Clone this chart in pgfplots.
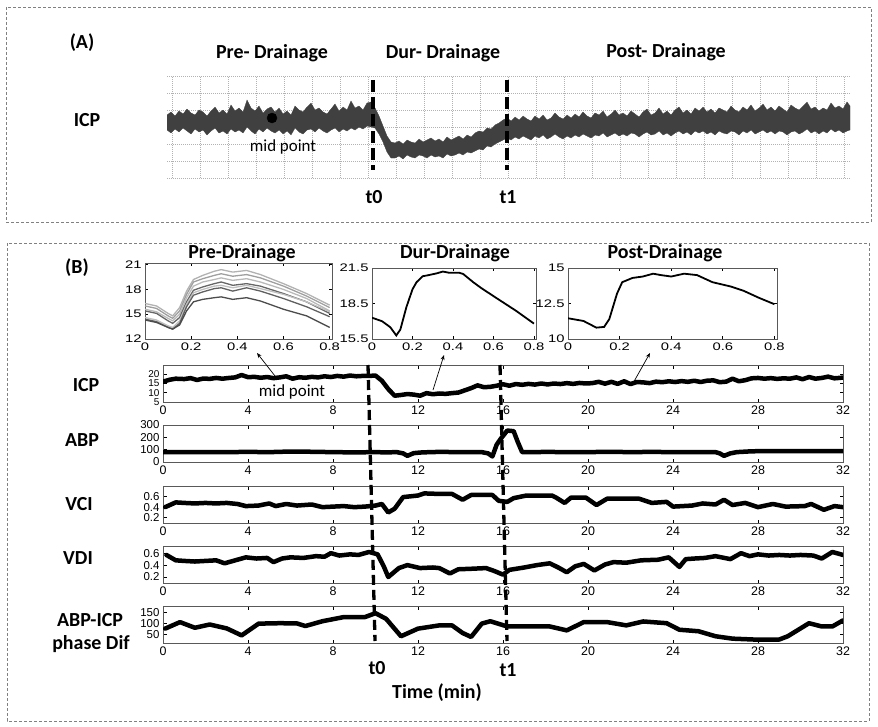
\documentclass[border=0pt]{standalone}
\usepackage{pgfplots}
\pgfplotsset{compat=1.18}
\usepackage{fontspec}
\setmainfont{Carlito}
\newfontfamily\lsans{Liberation Sans}
\newfontfamily\lsanswide[FakeStretch=1.35]{Liberation Sans}
\usetikzlibrary{arrows.meta}
\newcommand\xtf{\lsans\fontsize{12.5}{12.5}\selectfont}
\newcommand\ytf{\lsans\fontsize{11.5}{11.5}\selectfont}
\newcommand\ytfs{\lsans\fontsize{10}{10}\selectfont}
\newcommand\stf{\lsanswide\fontsize{11}{11}\selectfont}
\newcommand\lab{\fontsize{20}{22}\selectfont\bfseries}
\newcommand\mpf{\fontsize{17}{19}\selectfont}
\definecolor{band}{RGB}{64,64,64}
\pgfplotsset{
  base/.style={scale only axis, axis line style={draw=gray!70!black, line width=0.8bp},
    tick style={draw=black, line width=0.8bp}, major tick length=3.5bp, tick align=inside,
    /pgf/number format/assume math mode=true, no markers},
  mainax/.style={base, width=680bp, height=37bp, xmin=0, xmax=32, xtick={0,4,...,32},
    xticklabel style={font=\xtf}, yticklabel style={font=\ytf}},
  smallax/.style={base, xmin=0, xmax=0.81, xtick={0,0.2,0.4,0.6,0.8},
    xticklabels={0,0.2,0.4,0.6,0.8}, ticklabel style={font=\stf}, major tick length=3bp},
  thickline/.style={black, line width=4.5bp, line join=round, line cap=round},
}
\begin{document}
\begin{tikzpicture}
\begin{scope}[x=1bp,y=-1bp]
\path[use as bounding box] (0,0) rectangle (878,727);
\draw[gray, line width=0.8bp, dash pattern=on 3bp off 2bp] (6,7) rectangle (871,222);
\draw[gray, line width=0.8bp, dash pattern=on 3bp off 2bp] (7,243) rectangle (869,721);
\coordinate (aSW) at (167,178);
\coordinate (preSW) at (145,339);
\coordinate (durSW) at (372,339);
\coordinate (postSW) at (568,339);
\coordinate (icpSW) at (163,402);
\coordinate (abpSW) at (163,462);
\coordinate (vciSW) at (163,523);
\coordinate (vdiSW) at (163,583);
\coordinate (phSW) at (163,643);
\end{scope}

% ---------------- Panel A -----------------
\begin{axis}[at={(aSW)}, anchor=south west, scale only axis, width=683bp, height=102bp,
  xmin=0, xmax=683, ymin=0, ymax=102, axis line style={draw=none},
  xtick={5,33,...,677}, ytick={0,17,...,102}, xticklabels={}, yticklabels={},
  major tick length=0pt, grid=major,
  grid style={gray!60, line width=0.6bp, dash pattern=on 1bp off 1bp}]
\addplot[fill=band, draw=band, line width=0.3bp, line join=miter] coordinates {
(0,63)(4,66)(8,62)(12,67)(16,64)(20,69)(24,65)(28,63)(32,68)(36,66)(40,62)(44,67)(48,71)(52,65)
(56,68)(60,64)(64,73)(68,67)(72,70)(76,66)(80,78)(84,70)(88,67)(92,72)(96,65)(100,69)(104,71)
(108,66)(112,70)(116,64)(120,67)(124,63)(128,72)(132,68)(136,66)(140,71)(144,75)(148,68)(152,70)
(156,66)(160,64)(164,69)(168,74)(172,67)(176,71)(180,68)(184,77)(188,70)(192,72)(196,68)(200,75)
(204,76)(208,70)(212,62)(216,52)(220,42)(224,36)
(228,35)(232,37)(236,34)(240,38)(244,36)(248,35)(252,39)(256,36)(260,38)(264,40)(268,37)(272,39)
(276,36)(280,41)(284,38)(288,40)(292,42)(296,39)(300,43)(304,41)(308,45)(312,47)(316,46)(320,50)
(324,49)(328,53)(332,55)(336,58)
(340,60)(344,57)(348,61)(352,58)(356,62)(360,59)(364,57)(368,62)(372,59)(376,63)(380,58)(384,60)
(388,65)(392,61)(396,59)(400,63)(404,60)(408,64)(412,61)(416,66)(420,62)(424,60)(428,65)(432,63)
(436,67)(440,61)(444,64)(448,68)(452,63)(456,65)(460,62)(464,67)(468,64)(472,61)(476,66)(480,69)
(484,63)(488,65)(492,70)(496,64)(500,67)(504,63)(508,68)(512,71)(516,65)(520,68)(524,64)(528,70)
(532,67)(536,71)(540,66)(544,69)(548,65)(552,70)(556,68)(560,66)(564,72)(568,68)(572,66)(576,71)
(580,68)(584,73)(588,67)(592,70)(596,74)(600,68)(604,71)(608,67)(612,72)(616,69)(620,66)(624,73)
(628,70)(632,68)(636,72)(640,76)(644,69)(648,71)(652,67)(656,70)(660,68)(664,75)(668,70)(672,72)
(676,69)(680,76)(683,72)
(683,48)(680,47)(676,45)(672,48)(668,46)(664,49)(660,45)(656,47)(652,44)(648,47)(644,45)(640,49)
(636,46)(632,44)(628,47)(624,46)(620,43)(616,46)(612,47)(608,44)(604,47)(600,45)(596,48)(592,46)
(588,44)(584,48)(580,45)(576,47)(572,43)(568,46)(564,47)(560,44)(556,45)(552,47)(548,43)(544,46)
(540,44)(536,47)(532,45)(528,47)(524,43)(520,46)(516,44)(512,47)(508,45)(504,42)(500,45)(496,43)
(492,47)(488,44)(484,43)(480,46)(476,44)(472,41)(468,44)(464,45)(460,42)(456,44)(452,42)(448,45)
(444,43)(440,41)(436,45)(432,42)(428,43)(424,40)(420,42)(416,44)(412,41)(408,43)(404,40)(400,42)
(396,39)(392,41)(388,44)(384,41)(380,39)(376,43)(372,40)(368,42)(364,38)(360,40)(356,42)(352,39)
(348,41)(344,38)(340,40)
(336,38)(332,36)(328,34)(324,31)(320,32)(316,28)(312,29)(308,27)(304,25)(300,26)(296,23)(292,25)
(288,23)(284,22)(280,24)(276,20)(272,22)(268,21)(264,23)(260,20)(256,22)(252,23)(248,20)(244,21)
(240,23)(236,19)(232,22)(228,20)
(224,20)(220,26)(216,36)(212,44)(208,50)
(204,51)(200,52)(196,49)(192,51)(188,48)(184,50)(180,47)(176,49)(172,46)(168,50)(164,48)(160,45)
(156,47)(152,50)(148,46)(144,49)(140,48)(136,44)(132,46)(128,50)(124,43)(120,47)(116,44)(112,48)
(108,45)(104,47)(100,50)(96,46)(92,49)(88,44)(84,47)(80,51)(76,45)(72,48)(68,46)(64,49)(60,44)
(56,47)(52,45)(48,50)(44,47)(40,43)(36,48)(32,46)(28,49)(24,44)(20,47)(16,50)(12,46)(8,49)(4,45)(0,48)
};
\addplot[only marks, mark=*, mark size=5bp, black] coordinates {(105,60)};
\end{axis}

% ---------------- Small plots -----------------
\begin{axis}[smallax, at={(preSW)}, anchor=south west, width=187bp, height=76bp,
  ymin=12, ymax=21.2, ytick={12,15,18,21}]
\addplot[gray!60, line width=1.3bp] coordinates {(0,16.3)(0.05,16.0)(0.1,15.1)(0.12,14.8)(0.15,15.8)(0.18,17.8)(0.21,19.2)(0.25,19.7)(0.3,20.2)(0.33,20.4)(0.38,20.1)(0.44,20.3)(0.5,19.8)(0.6,18.7)(0.7,17.5)(0.8,16.1)};
\addplot[gray!75, line width=1.3bp] coordinates {(0,16.0)(0.05,15.7)(0.1,14.8)(0.12,14.5)(0.15,15.4)(0.18,17.4)(0.21,18.9)(0.25,19.3)(0.3,19.7)(0.33,19.9)(0.38,19.6)(0.44,19.8)(0.5,19.4)(0.6,18.4)(0.7,17.2)(0.8,15.8)};
\addplot[gray!55, line width=1.3bp] coordinates {(0,15.6)(0.05,15.3)(0.1,14.5)(0.12,14.2)(0.15,15.0)(0.18,17.0)(0.21,18.4)(0.25,18.9)(0.3,19.2)(0.33,19.4)(0.38,19.1)(0.44,19.3)(0.5,18.9)(0.6,18.0)(0.7,16.9)(0.8,15.4)};
\addplot[gray!80!black, line width=1.3bp] coordinates {(0,15.4)(0.05,15.1)(0.1,14.2)(0.12,13.9)(0.15,14.6)(0.18,16.5)(0.21,17.9)(0.25,18.3)(0.3,18.7)(0.33,18.9)(0.38,18.5)(0.44,18.7)(0.5,18.4)(0.6,17.5)(0.7,16.5)(0.8,15.1)};
\addplot[gray!50, line width=1.3bp] coordinates {(0,14.6)(0.05,14.3)(0.1,13.6)(0.12,13.4)(0.15,14.2)(0.18,16.2)(0.21,17.6)(0.25,18.0)(0.3,18.4)(0.33,18.5)(0.38,18.2)(0.44,18.5)(0.5,18.1)(0.6,17.4)(0.7,16.5)(0.8,15.3)};
\addplot[gray!75!black, line width=1.3bp] coordinates {(0,14.4)(0.05,14.1)(0.1,13.4)(0.12,13.2)(0.15,13.9)(0.18,15.9)(0.21,17.3)(0.25,17.7)(0.3,18.1)(0.33,18.2)(0.38,17.8)(0.44,18.2)(0.5,17.8)(0.6,16.9)(0.7,15.9)(0.8,14.7)};
\addplot[gray!60!black, line width=1.3bp] coordinates {(0,14.3)(0.05,14.0)(0.1,13.4)(0.12,13.2)(0.15,13.7)(0.18,15.4)(0.21,16.5)(0.25,16.8)(0.3,17.0)(0.33,17.1)(0.38,16.8)(0.44,17.0)(0.5,16.6)(0.6,15.6)(0.7,14.8)(0.8,13.4)};
\end{axis}

\begin{axis}[smallax, at={(durSW)}, anchor=south west, width=164bp, height=71bp,
  ymin=15.5, ymax=21.5, ytick={15.5,18.5,21.5}, yticklabels={15.5,18.5,21.5}]
\addplot[black, line width=1.8bp] coordinates {(0,17.3)(0.05,17.0)(0.09,16.5)(0.12,15.8)(0.14,16.3)(0.17,18.2)(0.2,19.7)(0.22,20.3)(0.25,20.8)(0.28,20.9)(0.32,21.05)(0.35,21.2)(0.38,21.1)(0.43,21.1)(0.45,21.0)(0.5,20.3)(0.54,19.8)(0.62,18.9)(0.71,17.9)(0.8,16.8)};
\end{axis}

\begin{axis}[smallax, at={(postSW)}, anchor=south west, width=209bp, height=71bp,
  ymin=10, ymax=15, ytick={10,12.5,15}, yticklabels={10,12.5,15}]
\addplot[black, line width=1.8bp] coordinates {(0,11.46)(0.06,11.27)(0.11,10.8)(0.14,10.85)(0.16,11.4)(0.19,13.2)(0.21,14.0)(0.25,14.3)(0.29,14.4)(0.33,14.6)(0.36,14.5)(0.40,14.4)(0.45,14.6)(0.50,14.5)(0.56,14.0)(0.63,13.7)(0.68,13.4)(0.74,12.9)(0.8,12.45)};
\end{axis}

% ---------------- Time series -----------------
\begin{axis}[mainax, at={(icpSW)}, anchor=south west, ymin=5, ymax=25, ytick={5,10,15,20},
  yticklabel style={font=\ytfs}]
\addplot[thickline] coordinates {
(0,16.0)(0.3,17.0)(0.6,17.6)(1.0,17.4)(1.3,17.9)(1.6,16.9)(1.9,17.7)(2.2,17.5)(2.5,18.0)(2.8,17.6)
(3.1,18.0)(3.4,18.3)(3.7,19.6)(4.0,18.4)(4.3,18.6)(4.6,18.1)(4.9,18.5)(5.2,17.9)(5.5,18.3)(5.8,18.9)
(6.1,17.6)(6.4,18.4)(6.7,18.1)(7.0,18.6)(7.3,18.3)(7.6,18.9)(7.9,18.5)(8.2,19.1)(8.5,18.7)(8.8,19.3)
(9.1,18.9)(9.4,19.1)(9.7,19.1)(10.0,19.3)(10.3,16.5)(10.6,12.0)(10.9,8.4)(11.2,8.8)(11.5,9.3)(11.8,9.0)
(12.1,8.4)(12.4,9.8)(12.7,9.2)(13.0,9.6)(13.3,9.4)(13.6,9.8)(13.9,10.1)(14.2,11.3)(14.5,12.5)(14.8,14.0)
(15.1,13.0)(15.4,13.2)(15.7,13.8)(16.0,14.6)(16.3,13.8)(16.6,14.7)(16.9,14.3)(17.2,14.8)(17.5,14.4)(17.8,15.0)
(18.1,14.5)(18.4,15.0)(18.7,14.7)(19.0,15.2)(19.3,14.8)(19.6,15.3)(19.9,15.0)(20.2,15.2)(20.5,15.9)(20.8,14.9)
(21.1,15.9)(21.4,14.8)(21.7,16.2)(22.0,14.7)(22.3,15.8)(22.6,15.6)(22.9,15.2)(23.2,16.0)(23.5,15.7)(23.8,16.2)
(24.1,15.8)(24.4,16.3)(24.7,15.9)(25.0,16.5)(25.3,15.8)(25.6,16.5)(25.9,16.7)(26.2,15.7)(26.5,16.0)(26.8,17.6)
(27.1,16.2)(27.4,16.8)(27.7,17.8)(28.0,18.0)(28.3,17.6)(28.6,17.9)(28.9,17.5)(29.2,17.8)(29.5,17.6)(29.8,18.3)
(30.1,17.3)(30.4,18.5)(30.7,17.6)(31.0,18.0)(31.3,18.7)(31.6,17.8)(32.0,18.2)};
\end{axis}

\begin{axis}[mainax, at={(abpSW)}, anchor=south west, ymin=0, ymax=300, ytick={0,100,200,300}]
\addplot[thickline] coordinates {
(0,80)(1,80)(2,81)(3,80)(4,82)(5,80)(6,85)(7,83)(8,80)(9,78)(10,80)(10.5,78)(11,80)(11.3,70)(11.5,50)
(11.8,72)(12.2,78)(13,82)(14,80)(15,80)(15.3,70)(15.5,45)(15.7,140)(15.9,190)(16.2,255)(16.5,250)
(16.7,160)(16.9,80)(17.5,80)(18,82)(19,80)(20,80)(21,83)(22,80)(23,82)(24,80)(25,80)(26,80)(26.2,70)
(26.4,50)(26.7,70)(27,80)(27.5,85)(28,88)(29,88)(30,88)(31,88)(32,88)};
\end{axis}

\begin{axis}[mainax, at={(vciSW)}, anchor=south west, ymin=0.1, ymax=0.8, ytick={0.2,0.4,0.6}, yticklabels={0.2,0.4,0.6}]
\addplot[thickline] coordinates {
(0.1,0.40)(0.6,0.49)(1.0,0.48)(1.5,0.47)(2.0,0.48)(2.5,0.47)(3.0,0.48)(3.5,0.46)(3.9,0.42)(4.5,0.43)
(5.0,0.47)(5.3,0.42)(5.8,0.46)(6.3,0.43)(7.0,0.45)(7.5,0.40)(8.0,0.41)(8.5,0.42)(9.0,0.40)(9.5,0.41)
(10.0,0.43)(10.3,0.46)(10.6,0.30)(10.9,0.37)(11.3,0.59)(12.0,0.62)(12.3,0.66)(13.0,0.65)(13.6,0.65)(14.1,0.54)
(14.5,0.63)(15.5,0.63)(15.8,0.52)(16.2,0.50)(16.5,0.57)(17.1,0.62)(18.3,0.62)(18.5,0.58)(18.9,0.48)(19.2,0.58)
(19.9,0.58)(20.4,0.44)(20.9,0.56)(22.4,0.56)(23.0,0.48)(23.7,0.50)(24.0,0.41)(24.9,0.43)(25.4,0.47)(26.0,0.45)
(26.4,0.54)(26.8,0.44)(27.4,0.48)(28.0,0.40)(28.7,0.46)(29.3,0.41)(30.2,0.42)(30.5,0.46)(31.1,0.35)(31.6,0.42)(32,0.40)};
\end{axis}

\begin{axis}[mainax, at={(vdiSW)}, anchor=south west, ymin=0.1, ymax=0.72, ytick={0.2,0.4,0.6}, yticklabels={0.2,0.4,0.6}]
\addplot[thickline] coordinates {
(0.16,0.57)(0.6,0.48)(1.0,0.47)(1.5,0.46)(2.0,0.47)(2.5,0.48)(2.9,0.43)(3.4,0.48)(3.9,0.53)(4.4,0.51)
(4.9,0.52)(5.2,0.45)(5.6,0.51)(6.0,0.53)(6.6,0.52)(7.2,0.55)(7.6,0.54)(7.9,0.60)(8.3,0.56)(8.8,0.58)
(9.2,0.57)(9.7,0.62)(10.1,0.58)(10.4,0.37)(10.6,0.20)(11.1,0.35)(11.5,0.40)(12.1,0.35)(12.7,0.36)(13.0,0.35)
(13.5,0.26)(13.9,0.33)(14.6,0.34)(15.2,0.35)(15.6,0.30)(16.0,0.24)(16.3,0.32)(17.0,0.36)(17.6,0.40)(18.2,0.43)
(18.6,0.36)(19.0,0.28)(19.4,0.38)(19.8,0.42)(20.3,0.31)(20.8,0.41)(21.2,0.45)(21.8,0.44)(22.5,0.48)(23.3,0.49)
(23.8,0.53)(24.3,0.37)(24.6,0.50)(25.0,0.51)(25.5,0.52)(26.0,0.55)(26.7,0.50)(27.2,0.60)(27.6,0.55)(28.0,0.58)
(28.5,0.56)(29.0,0.57)(29.5,0.56)(30.0,0.57)(30.6,0.56)(31.0,0.51)(31.5,0.62)(32,0.57)};
\end{axis}

\begin{axis}[mainax, at={(phSW)}, anchor=south west, ymin=10, ymax=180, ytick={50,100,150}]
\addplot[thickline] coordinates {
(0.1,76)(0.8,106)(1.5,80)(2.2,95)(3.0,77)(3.7,45)(4.5,99)(5.5,101)(6.3,100)(6.7,88)(7.5,110)(8.5,129)
(9.5,129)(10.0,147)(10.5,121)(11.2,41)(12.0,76)(13.0,91)(13.6,91)(14.1,56)(14.5,38)(15.0,99)(15.4,110)
(16.2,86)(18.2,86)(19.0,68)(19.8,106)(20.9,106)(21.8,91)(22.6,109)(23.7,101)(24.3,71)(25.2,64)(26.0,41)
(26.8,30)(27.8,26)(29.0,26)(29.4,41)(30.4,101)(31.0,86)(31.5,86)(32,114)};
\end{axis}

% ---------------- Annotations -----------------
\begin{scope}[x=1bp,y=-1bp]
\node[font=\lab] at (82,43) {(A)};
\node[font=\lab] at (272,53) {Pre- Drainage};
\node[font=\lab] at (443,53) {Dur- Drainage};
\node[font=\lab] at (666,52) {Post- Drainage};
\node[font=\lab] at (87,120) {ICP};
\node[font=\mpf] at (283,147) {mid point};
\draw[black, line width=3.2bp, dash pattern=on 12bp off 5bp] (373,80) -- (373,170);
\draw[black, line width=3.2bp, dash pattern=on 12bp off 5bp] (507,80) -- (507,170);
\node[font=\lab] at (374,197) {t0};
\node[font=\lab] at (508,197) {t1};

\node[font=\lab] at (77,268) {(B)};
\node[font=\lab] at (242,253) {Pre-Drainage};
\node[font=\lab] at (455,253) {Dur-Drainage};
\node[font=\lab] at (665,253) {Post-Drainage};
\node[font=\lab] at (86,385) {ICP};
\node[font=\lab] at (82,440) {ABP};
\node[font=\lab] at (79,504) {VCI};
\node[font=\lab] at (78,558) {VDI};
\node[font=\lab] at (90,620) {ABP-ICP};
\node[font=\lab] at (91,644) {phase Dif};
\node[font=\mpf] at (292,392) {mid point};
\draw[line width=0.7bp, -{Stealth[length=5bp,width=4bp]}] (275,376) -- (257,353);
\draw[line width=0.7bp, -{Stealth[length=5bp,width=4bp]}] (433,390) -- (444,355);
\draw[line width=0.7bp, -{Stealth[length=5bp,width=4bp]}] (632,385) -- (650,353);
\draw[black, line width=3.3bp, dash pattern=on 10bp off 5bp] (368,365) -- (375,641);
\draw[black, line width=3.3bp, dash pattern=on 10bp off 5bp] (500,365) -- (507,641);
\node[font=\lab] at (377,668) {t0};
\node[font=\lab] at (508,670) {t1};
\node[font=\lab] at (437,693) {Time (min)};
\end{scope}
\end{tikzpicture}
\end{document}
